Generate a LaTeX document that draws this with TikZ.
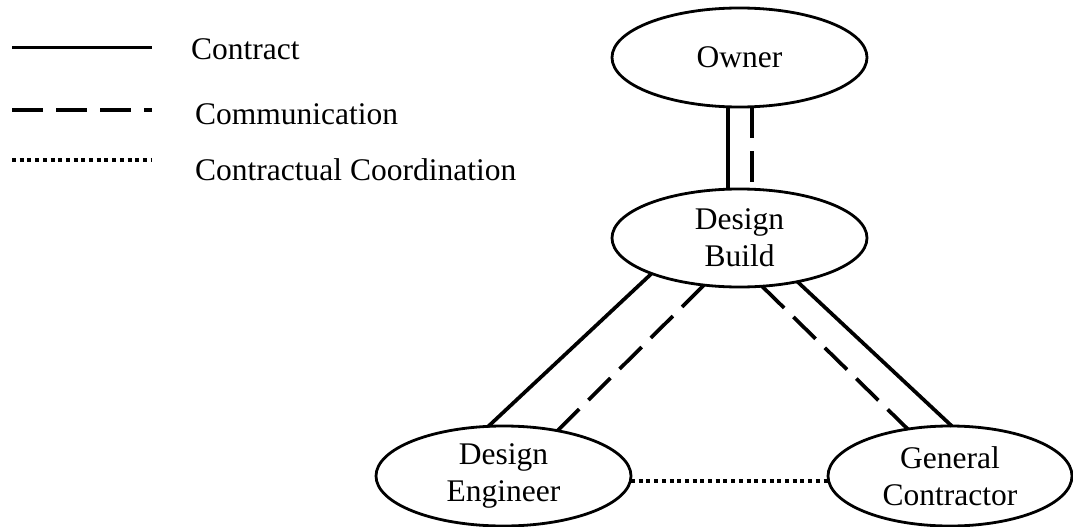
\documentclass[tikz,border=0pt]{standalone}
\usepackage{fontspec}
\setmainfont{Liberation Serif}
\usetikzlibrary{shapes.geometric}

\begin{document}
\begin{tikzpicture}[x=1pt,y=-1pt,
  party/.style={draw,ellipse,line width=2.8pt,inner sep=0pt,outer sep=0pt,
    align=center,font=\fontsize{31.5}{37}\selectfont},
  contract/.style={line width=3.7pt},
  comm/.style={line width=3.7pt,dash pattern=on 31pt off 13pt},
  coord/.style={line width=3.7pt,dash pattern=on 4pt off 3.7pt},
  key/.style={anchor=west,inner sep=0pt,font=\fontsize{31.5}{37}\selectfont}]
\useasboundingbox (0,0) rectangle (1073,527);
\clip (0,0) rectangle (1073,527);

%%% legend
\draw[contract] (12,47.6) -- (152,47.6);
\node[key] (kcontract) at (191,49) {Contract};
\draw[comm] (12,110) -- (152,110);
\node[key] (kcomm) at (195,114) {Communication};
\draw[coord] (12,160) -- (152,160);
\node[key] (kcoord) at (195,170) {Contractual Coordination};

%%% the parties
\node[party,minimum width=255pt,minimum height=99pt] (owner) at (739.5,57.5) {Owner};
\node[party,minimum width=255pt,minimum height=98pt] (db) at (739.5,238) {Design\\Build};
\node[party,minimum width=255pt,minimum height=100pt] (de) at (503.5,476) {Design\\Engineer};
\node[party,minimum width=244pt,minimum height=100pt] (gc) at (950,476) {General\\Contractor};

%%% owner and design build
\draw[contract] ([xshift=-11.5pt]owner.south) -- ([xshift=-11.5pt]db.north);
\draw[comm] ([xshift=12.5pt]owner.south) -- ([xshift=12.5pt]db.north);

%%% design build down to the two others
\draw[contract] (db.202) -- (de.107);
\draw[comm] (db.233) -- (de.40);
\draw[comm] (db.295) -- (gc.132);
\draw[contract] (db.323) -- (gc.88);

%%% engineer and contractor
\draw[coord] ([yshift=-5pt]de.east) -- ([yshift=-5pt]gc.west);
\end{tikzpicture}
\end{document}
